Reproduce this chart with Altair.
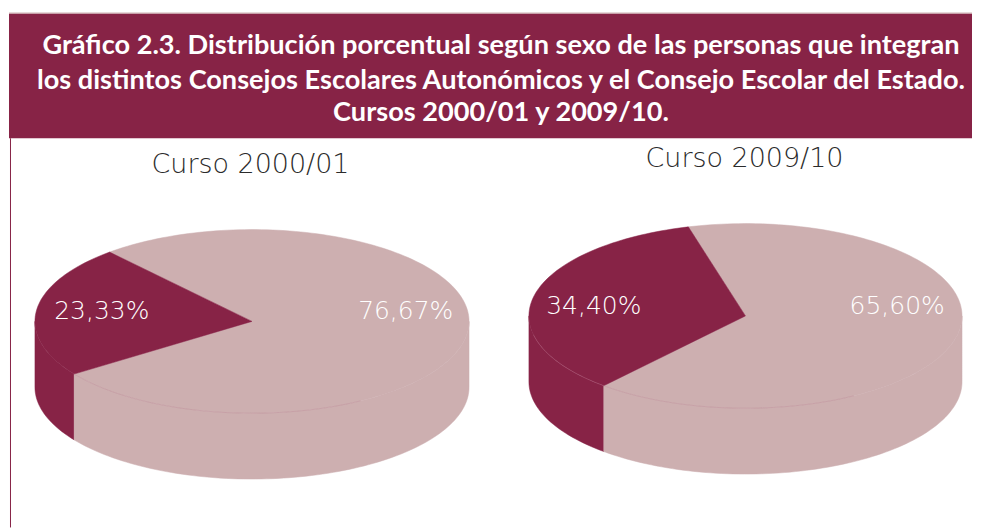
import math
import altair as alt
import pandas as pd

# Data
courses = ["Curso 2000/01", "Curso 2009/10"]
dark_share = [23.33, 34.40]
light_share = [76.67, 65.60]
dark_labels = ["23,33%", "34,40%"]
light_labels = ["76,67%", "65,60%"]
title_lines = [
    "Gráfico 2.3. Distribución porcentual según sexo de las personas que integran",
    "los distintos Consejos Escolares Autonómicos y el Consejo Escolar del Estado.",
    "Cursos 2000/01 y 2009/10.",
]

# Styling / layout
DARK = "#872346"
LIGHT = "#CDAFB0"
SEAM = "#BE8E98"
SEAM_DARK = "#B0617F"
CX = [251.5, 746]
CY = [321.5, 316]
RX = [217.5, 217]
RY = [92, 92.5]
DEPTH = [66, 66]
START = [131, 105.3]      # start angle of the dark wedge, degrees counter-clockwise
COURSE_POS = [(250, 165), (745, 159)]
DARK_POS = [(101, 311), (594, 306)]
LIGHT_POS = [(405.5, 311), (898, 306)]
TITLE_POS = [(501, 46), (501, 81), (501, 113)]
LIGHT_FONT = "DejaVu Sans ExtraLight, DejaVu Sans Light, DejaVu Sans"

xs = alt.Scale(domain=[8, 973], range=[0, 965], nice=False, zero=False)
ys = alt.Scale(domain=[528, 8], range=[520, 0], nice=False, zero=False)
X = lambda f="x": alt.X(f"{f}:Q", scale=xs, axis=None)
Y = lambda f="y": alt.Y(f"{f}:Q", scale=ys, axis=None)


def pt(i, deg, drop=0.0):
    a = math.radians(deg)
    return CX[i] + RX[i] * math.cos(a), CY[i] - RY[i] * math.sin(a) + drop


def sweep(a0, a1):
    n = max(2, int(abs(a1 - a0) / 1.5))
    return [a0 + (a1 - a0) * k / n for k in range(n + 1)]


def polygon(points, color, stroke=None):
    df = pd.DataFrame(points, columns=["x", "y"])
    df["i"] = range(len(df))
    return alt.Chart(df).mark_line(
        fill=color, stroke=stroke or color, strokeWidth=0.5, interpolate="linear"
    ).encode(x=X(), y=Y(), order=alt.Order("i:Q"))


def wall(i, a0, a1, color):
    top = [pt(i, a) for a in sweep(a0, a1)]
    bot = [pt(i, a, DEPTH[i]) for a in sweep(a1, a0)]
    return polygon(top + bot + top[:1], color)


def wedge(i, a0, a1, color):
    c = (CX[i], CY[i])
    return polygon([c] + [pt(i, a) for a in sweep(a0, a1)] + [c], color)


def seam(i, a0, a1, color=SEAM):
    df = pd.DataFrame([pt(i, a) for a in sweep(a0, a1)], columns=["x", "y"])
    df["i"] = range(len(df))
    return alt.Chart(df).mark_line(color=color, strokeWidth=0.6, opacity=0.8).encode(
        x=X(), y=Y(), order=alt.Order("i:Q")
    )


layers = []

# header band and left rule
band = pd.DataFrame({"x": [8], "x2": [973], "y": [13], "y2": [138]})
layers.append(
    alt.Chart(band).mark_rect(color=DARK).encode(x=X(), x2="x2:Q", y=Y(), y2="y2:Q")
)
top_edge = pd.DataFrame({"x": [8], "x2": [973], "y": [12.5]})
layers.append(
    alt.Chart(top_edge).mark_rule(color=LIGHT, strokeWidth=1).encode(x=X(), x2="x2:Q", y=Y())
)
rule = pd.DataFrame({"x": [9.5], "y": [138], "y2": [528]})
layers.append(
    alt.Chart(rule).mark_rule(color=DARK, strokeWidth=1).encode(x=X(), y=Y(), y2="y2:Q")
)

for i in range(2):
    dark_end = START[i] + dark_share[i] * 3.6
    light_end = dark_end + light_share[i] * 3.6
    layers.append(wall(i, 180, dark_end, DARK))
    layers.append(wall(i, dark_end, 360, LIGHT))
    layers.append(wedge(i, dark_end, light_end, LIGHT))
    layers.append(wedge(i, START[i], dark_end, DARK))
    layers.append(seam(i, dark_end, 300))
layers.append(seam(1, 192, START[1] + dark_share[1] * 3.6, SEAM_DARK))

titles = pd.DataFrame(
    {"t": title_lines, "x": [p[0] for p in TITLE_POS], "y": [p[1] for p in TITLE_POS]}
)
layers.append(
    alt.Chart(titles)
    .mark_text(font="Lato", fontWeight="bold", fontSize=27.2, color="white",
               align="center", baseline="middle")
    .encode(x=X(), y=Y(), text="t:N")
)

course_df = pd.DataFrame(
    {"t": courses, "x": [p[0] for p in COURSE_POS], "y": [p[1] for p in COURSE_POS]}
)
layers.append(
    alt.Chart(course_df)
    .mark_text(font=LIGHT_FONT, fontSize=27, color="#2b2b2b", align="center", baseline="middle")
    .encode(x=X(), y=Y(), text="t:N")
)

pct_df = pd.DataFrame(
    {
        "t": dark_labels + light_labels,
        "x": [p[0] for p in DARK_POS + LIGHT_POS],
        "y": [p[1] for p in DARK_POS + LIGHT_POS],
    }
)
layers.append(
    alt.Chart(pct_df)
    .mark_text(font=LIGHT_FONT, fontSize=25, color="white", align="center", baseline="middle")
    .encode(x=X(), y=Y(), text="t:N")
)

chart = (
    alt.layer(*layers)
    .resolve_scale(x="shared", y="shared")
    .properties(width=965, height=520, padding=0, background="white")
    .configure_view(stroke=None)
)
chart.save("out.html", embed_options={"renderer": "svg", "actions": False})
